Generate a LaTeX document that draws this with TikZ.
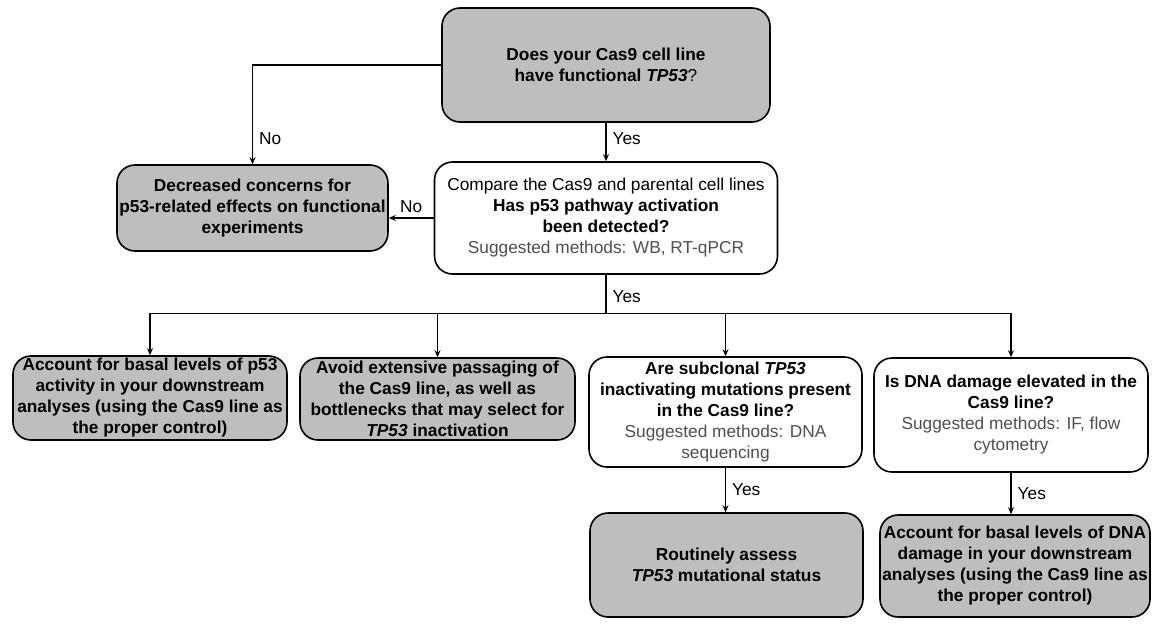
\documentclass[tikz,border=0pt]{standalone}
\usepackage{fontspec}
\setmainfont{Liberation Sans}
\usetikzlibrary{arrows.meta,positioning}
\definecolor{boxgray}{HTML}{BEBEBE}
\definecolor{hint}{HTML}{4F4F4F}
\tikzset{
  box/.style={draw, line width=1.6pt, rounded corners=18pt, align=center, inner sep=2pt, font=\fontsize{17.3}{21}\selectfont\bfseries},
  act/.style={box, fill=boxgray},
  ask/.style={box, fill=white},
  edge/.style={-{Stealth[length=7pt,width=6pt]}, line width=1.3pt},
  lbl/.style={font=\fontsize{17.3}{21}\selectfont, inner sep=2pt, anchor=west, xshift=4pt},
}
\newcommand{\tp}{\textit{TP53}}
\newcommand{\hint}[1]{{\mdseries\color{hint}#1}}

\begin{document}
\begin{tikzpicture}[x=1pt,y=-1pt]
  \useasboundingbox (0,0) rectangle (1155,625);
  % top question and first split
  \node[act, minimum width=328pt, minimum height=114pt] (func) at (606,65) {Does your Cas9 cell line\\have functional \tp{}{\mdseries ?}};
  \node[act, minimum width=271pt, minimum height=86pt] (dec) at (252.5,208) {Decreased concerns for\\p53-related effects on functional\\experiments};
  \node[ask, minimum width=343pt, minimum height=112pt] (cmp) at (606,218) {{\mdseries Compare the Cas9 and parental cell lines}\\Has p53 pathway activation\\been detected?\\\hint{Suggested methods: WB, RT-qPCR}};
  % second row
  \node[act, minimum width=274pt, minimum height=84pt] (acct) at (150,398) {Account for basal levels of p53\\activity in your downstream\\analyses (using the Cas9 line as\\the proper control)};
  \node[act, minimum width=275pt, minimum height=82pt] (avoid) at (437.5,399) {Avoid extensive passaging of\\the Cas9 line, as well as\\bottlenecks that may select for\\\tp{} inactivation};
  \node[ask, minimum width=273pt, minimum height=110pt] (sub) at (725.5,412) {Are subclonal \tp\\inactivating mutations present\\in the Cas9 line?\\\hint{Suggested methods: DNA}\\\hint{sequencing}};
  \node[ask, minimum width=274pt, minimum height=114pt] (dmg) at (1011,415) {Is DNA damage elevated in the\\Cas9 line?\\\hint{Suggested methods: IF, flow}\\\hint{cytometry}};
  % last row
  \node[act, minimum width=273pt, minimum height=104pt] (rout) at (726.5,565) {Routinely assess\\\tp{} mutational status};
  \node[act, minimum width=270pt, minimum height=102pt] (dmgacct) at (1015,566) {Account for basal levels of DNA\\damage in your downstream\\analyses (using the Cas9 line as\\the proper control)};
  % connectors
  \draw[edge] (func.west) -| node[lbl, pos=0.87]{No} (dec.north);
  \draw[edge] (func.south) -- node[lbl, pos=0.42]{Yes} (cmp.north);
  \draw[edge] (cmp.west) -- node[above=3pt, font=\fontsize{17.3}{21}\selectfont, inner sep=2pt]{No} (cmp.west -| dec.east);
  \path (cmp.south) ++(0,39) coordinate (split);
  \draw[line width=1.3pt] (cmp.south) -- node[lbl, pos=0.55]{Yes} (split);
  \foreach \n in {acct, avoid, sub, dmg}
    \draw[edge] (split) -| (\n.north);
  \draw[edge] (sub.south) -- node[lbl]{Yes} (sub.south |- rout.north);
  \draw[edge] (dmg.south) -- node[lbl]{Yes} (dmg.south |- dmgacct.north);
\end{tikzpicture}
\end{document}
